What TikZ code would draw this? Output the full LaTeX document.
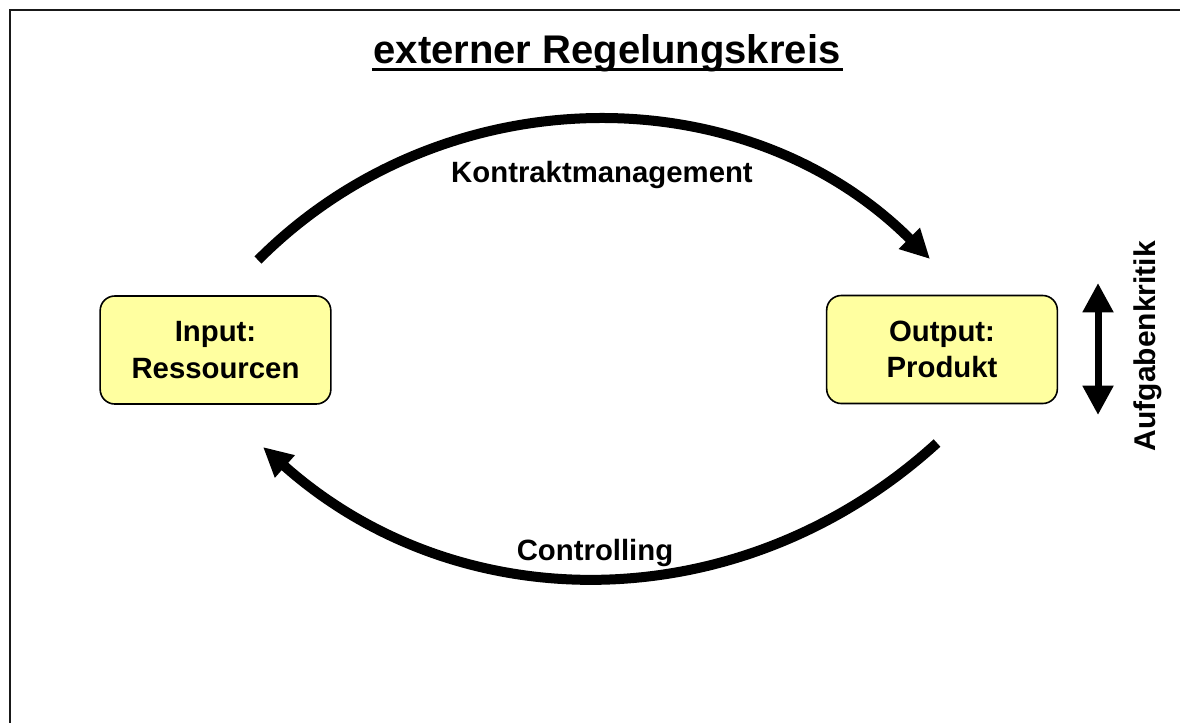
\documentclass[tikz,border=0pt]{standalone}
\usepackage{fontspec}
\setmainfont{Liberation Sans}
\usetikzlibrary{arrows.meta}
\definecolor{boxfill}{RGB}{255,255,160}
\tikzset{
  box/.style={draw=black, line width=1.2pt, fill=boxfill, rounded corners=11pt,
    minimum width=173pt, minimum height=81pt, align=center,
    font=\fontsize{22}{27.5}\selectfont\bfseries},
  lbl/.style={font=\fontsize{22}{26}\selectfont\bfseries, anchor=base, inner sep=0pt},
  flow/.style={line width=7.5pt, -{Triangle[length=22pt,width=21pt]}},
}
\begin{document}
\begin{tikzpicture}[x=0.75pt,y=-0.75pt]
\useasboundingbox (0,0) rectangle (1180,722);
\fill[white] (0,0) rectangle (1180,722);
\draw[line width=1.5pt, black!90] (9.5,760) -- (9.5,9.5) -- (1220,9.5);
\node[lbl, font=\fontsize{30}{34}\selectfont\bfseries] (title) at (607,63) {externer Regelungskreis};
\draw[line width=2.2pt] ([xshift=-1pt,yshift=-4.8pt]title.base west) -- ([xshift=1.5pt,yshift=-4.8pt]title.base east);
\node[box] (in) at (215.5,350) {Input:\\Ressourcen};
\node[box] (out) at (942,349.5) {Output:\\Produkt};
\coordinate (ts) at (258,260);
\coordinate (te) at (930,259);
\coordinate (bs) at (937,443);
\coordinate (be) at (263,447);
\draw[flow] (ts) to[bend left=45] (te);
\draw[flow] (bs) to[bend left=42] (be);
\node[lbl] (k) at (602,182) {Kontraktmanagement};
\node[lbl] (c) at (595,560) {Controlling};
\coordinate (da) at (1098,283);
\coordinate (db) at (1098,415);
\draw[line width=5.25pt, {Triangle[length=22pt,width=22pt]}-{Triangle[length=22pt,width=22pt]}] (da) -- (db);
\node[lbl, rotate=90, font=\fontsize{22.5}{26}\selectfont\bfseries] (ak) at (1155,346) {Aufgabenkritik};
\end{tikzpicture}
\end{document}
